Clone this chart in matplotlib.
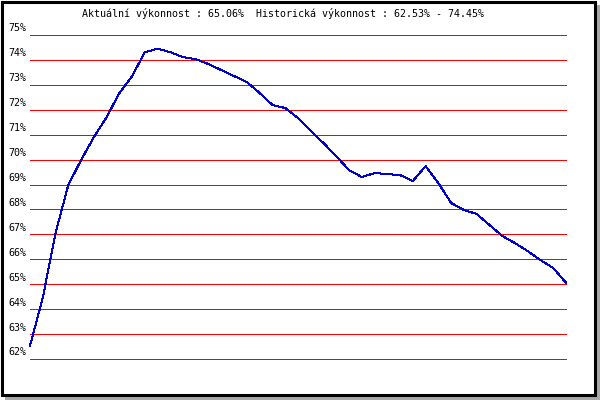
import numpy as np
import matplotlib
matplotlib.use("Agg")
import matplotlib.pyplot as plt
from matplotlib.patches import Rectangle

title = "Aktuální výkonnost : 65.06%  Historická výkonnost : 62.53% - 74.45%"

# performance values, one per step
values = [62.53, 64.45, 67.05, 68.98, 69.98, 70.90, 71.70, 72.67, 73.35, 74.31,
          74.45, 74.31, 74.11, 74.03, 73.83, 73.59, 73.35, 73.11, 72.67, 72.19,
          72.07, 71.67, 71.15, 70.66, 70.14, 69.58, 69.30, 69.46, 69.42, 69.38,
          69.14, 69.74, 69.06, 68.26, 67.98, 67.82, 67.38, 66.94, 66.65, 66.33,
          65.97, 65.65, 65.06]
levels = list(range(62, 76))
level_labels = ["%d%%" % v for v in levels]

W, H = 600, 400
fig = plt.figure(figsize=(6, 4), dpi=100)
fig.patch.set_facecolor("white")

# frame with grey drop shadow
fig.add_artist(Rectangle((5 / W, 0), 595 / W, 4 / H, transform=fig.transFigure,
                         facecolor="#a8a8a8", edgecolor="none"))
fig.add_artist(Rectangle((596 / W, 0), 4 / W, 395 / H, transform=fig.transFigure,
                         facecolor="#a8a8a8", edgecolor="none"))
fig.add_artist(Rectangle((1.5 / W, 5.5 / H), 593 / W, 393 / H, transform=fig.transFigure,
                         facecolor="none", edgecolor="black", linewidth=2.2))

# plot area: x 30..566 px, y 35..359 px
ax = fig.add_axes([30 / W, (H - 359) / H, 536 / W, 324 / H])
ax.set_xlim(0, len(values) - 1)
ax.set_ylim(62, 75)
ax.axis("off")

for v, lab in zip(levels, level_labels):
    ax.axhline(v, color="#ff0000", linewidth=0.72, antialiased=False, clip_on=False)
    ax.annotate(lab, xy=(0, v), xycoords=("axes fraction", "data"),
                xytext=(-22, 1.5), textcoords="offset pixels",
                ha="left", va="bottom", fontsize=7.2, family="DejaVu Sans Mono")

ax.plot(range(len(values)), values, color="#0000cc", linewidth=0.72,
        antialiased=False, clip_on=False)

fig.text(283 / W, (H - 13.5) / H, title, ha="center", va="center",
         fontsize=7.2, family="DejaVu Sans Mono")

fig.savefig("out.png", dpi=100)
